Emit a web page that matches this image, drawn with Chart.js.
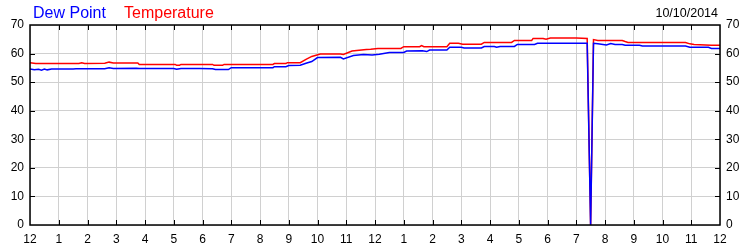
<!DOCTYPE html>
<html lang="en">
<head>
    <meta charset="UTF-8">
    <title>Dew Point / Temperature</title>
    <script src="https://cdn.jsdelivr.net/npm/chart.js"></script>
    <style>
        body { margin: 0; background: #fff; }
    </style>
</head>
<body>
    <canvas id="weatherChart" width="750" height="250"></canvas>

    <script>
        // hours since midnight
        const dewHours = [0, 0.15, 0.3, 0.4, 0.5, 0.6, 0.75, 1.5, 1.6, 2.6, 2.75, 2.9, 3.7, 3.8, 5.0, 5.1, 5.25, 5.9, 6.35, 6.45, 6.9, 7.0, 8.45, 8.5, 8.9, 9.0, 9.4, 9.6, 9.8, 10.0, 10.8, 10.9, 11.25, 11.6, 11.9, 12.15, 12.5, 13.0, 13.1, 13.65, 13.8, 13.9, 14.5, 14.6, 15.0, 15.1, 15.7, 15.8, 16.15, 16.23, 16.35, 16.85, 16.95, 17.55, 17.65, 19.38, 19.5, 19.6, 19.75, 20.05, 20.2, 20.35, 20.6, 20.7, 21.2, 21.3, 22.8, 22.95, 23.6, 23.7, 24];
        const dewPoint = [54.6, 54.3, 54.5, 54.2, 54.6, 54.3, 54.6, 54.6, 54.7, 54.7, 55.0, 54.8, 54.9, 54.8, 54.8, 54.5, 54.8, 54.8, 54.7, 54.4, 54.4, 55.05, 55.05, 55.4, 55.4, 55.8, 55.9, 56.6, 57.2, 58.6, 58.7, 58.1, 59.3, 59.7, 59.5, 59.8, 60.4, 60.4, 60.9, 61.0, 60.7, 61.25, 61.25, 62.2, 62.2, 61.95, 61.95, 62.45, 62.45, 62.2, 62.5, 62.5, 63.2, 63.2, 63.6, 63.6, 0, 63.6, 63.4, 63.0, 63.5, 63.2, 63.2, 62.9, 62.9, 62.65, 62.65, 62.2, 62.2, 61.8, 61.8];

        const tempHours = [0, 0.2, 1.7, 1.8, 1.9, 2.6, 2.75, 2.9, 3.75, 3.8, 5.05, 5.1, 5.2, 5.25, 6.35, 6.4, 6.7, 6.75, 8.45, 8.5, 8.9, 8.95, 9.4, 9.6, 9.8, 10.1, 10.8, 10.9, 11.2, 11.7, 11.85, 12.1, 12.9, 13.0, 13.55, 13.62, 13.7, 14.5, 14.6, 14.9, 15.05, 15.7, 15.8, 16.75, 16.85, 17.45, 17.5, 17.85, 17.95, 18.1, 19.0, 19.38, 19.5, 19.6, 19.75, 20.6, 20.7, 20.8, 22.8, 22.95, 23.1, 23.7, 24];
        const temperature = [56.8, 56.5, 56.5, 56.8, 56.5, 56.6, 57.0, 56.7, 56.7, 56.2, 56.2, 55.9, 55.9, 56.2, 56.2, 55.9, 55.9, 56.2, 56.2, 56.5, 56.5, 56.8, 56.8, 58.0, 59.0, 59.85, 59.85, 59.7, 60.9, 61.4, 61.5, 61.8, 61.8, 62.4, 62.4, 62.8, 62.4, 62.4, 63.6, 63.6, 63.3, 63.3, 63.9, 63.9, 64.6, 64.6, 65.3, 65.3, 65.0, 65.45, 65.45, 65.3, 0, 64.9, 64.6, 64.6, 64.2, 63.9, 63.9, 63.4, 63.2, 62.9, 62.9];

        const hourLabels = ['12', '1', '2', '3', '4', '5', '6', '7', '8', '9', '10', '11', '12', '1', '2', '3', '4', '5', '6', '7', '8', '9', '10', '11', '12'];
        const chartDate = '10/10/2014';

        const toPoints = (xs, ys) => xs.map((x, i) => ({ x: x, y: ys[i] }));

        const FONT = '"Liberation Sans", Arial, sans-serif';

        // frame, inward tick marks and the header texts
        const framePlugin = {
            id: 'frame',
            afterDraw(chart) {
                const ctx = chart.ctx;
                const a = chart.chartArea;
                const xs = chart.scales.x;
                const ys = chart.scales.y;
                ctx.save();
                ctx.strokeStyle = '#000';
                ctx.lineWidth = 1;
                ctx.beginPath();
                for (let h = 1; h < 24; h++) {
                    const px = Math.round(xs.getPixelForValue(h)) + 0.5;
                    ctx.moveTo(px, a.top); ctx.lineTo(px, a.top + 5);
                    ctx.moveTo(px, a.bottom); ctx.lineTo(px, a.bottom - 5);
                }
                for (let v = 10; v < 70; v += 10) {
                    const py = Math.round(ys.getPixelForValue(v)) + 0.5;
                    ctx.moveTo(a.left, py); ctx.lineTo(a.left + 5, py);
                    ctx.moveTo(a.right, py); ctx.lineTo(a.right - 5, py);
                }
                ctx.stroke();
                ctx.lineWidth = 1.5;
                ctx.strokeRect(a.left, a.top, a.right - a.left, a.bottom - a.top);

                ctx.textBaseline = 'alphabetic';
                ctx.font = '16px ' + FONT;
                ctx.textAlign = 'left';
                ctx.fillStyle = '#0000ff';
                ctx.fillText('Dew Point', 33, 18);
                ctx.fillStyle = '#ff0000';
                ctx.fillText('Temperature', 124, 18);
                ctx.font = '12.5px ' + FONT;
                ctx.fillStyle = '#000';
                ctx.textAlign = 'right';
                ctx.fillText(chartDate, 718, 17);
                ctx.restore();
            }
        };

        const yTicks = {
            stepSize: 10,
            color: '#000',
            font: { family: FONT, size: 12 },
            padding: 6
        };

        new Chart(document.getElementById('weatherChart'), {
            type: 'line',
            data: {
                datasets: [
                    {
                        label: 'Dew Point',
                        data: toPoints(dewHours, dewPoint),
                        borderColor: '#0000ff',
                        borderWidth: 1.5,
                        pointRadius: 0,
                        tension: 0
                    },
                    {
                        label: 'Temperature',
                        data: toPoints(tempHours, temperature),
                        borderColor: '#ff0000',
                        borderWidth: 1.5,
                        pointRadius: 0,
                        tension: 0
                    }
                ]
            },
            options: {
                responsive: false,
                animation: false,
                layout: { padding: { top: 25, left: 0, right: 0, bottom: 0 } },
                plugins: {
                    legend: { display: false },
                    tooltip: { enabled: false }
                },
                scales: {
                    x: {
                        type: 'linear',
                        min: 0,
                        max: 24,
                        grid: { color: '#d0d0d0', drawTicks: false },
                        border: { display: false },
                        ticks: {
                            stepSize: 1,
                            color: '#000',
                            font: { family: FONT, size: 12 },
                            padding: 7,
                            maxRotation: 0,
                            autoSkip: false,
                            callback: v => hourLabels[v]
                        },
                        afterFit: s => { s.height = 25; }
                    },
                    y: {
                        position: 'left',
                        min: 0,
                        max: 70,
                        grid: { color: '#d0d0d0', drawTicks: false },
                        border: { display: false },
                        ticks: yTicks,
                        afterFit: s => { s.width = 30; }
                    },
                    y2: {
                        position: 'right',
                        min: 0,
                        max: 70,
                        grid: { drawOnChartArea: false, drawTicks: false },
                        border: { display: false },
                        ticks: yTicks,
                        afterFit: s => { s.width = 30; }
                    }
                }
            },
            plugins: [framePlugin]
        });
    </script>
</body>
</html>
